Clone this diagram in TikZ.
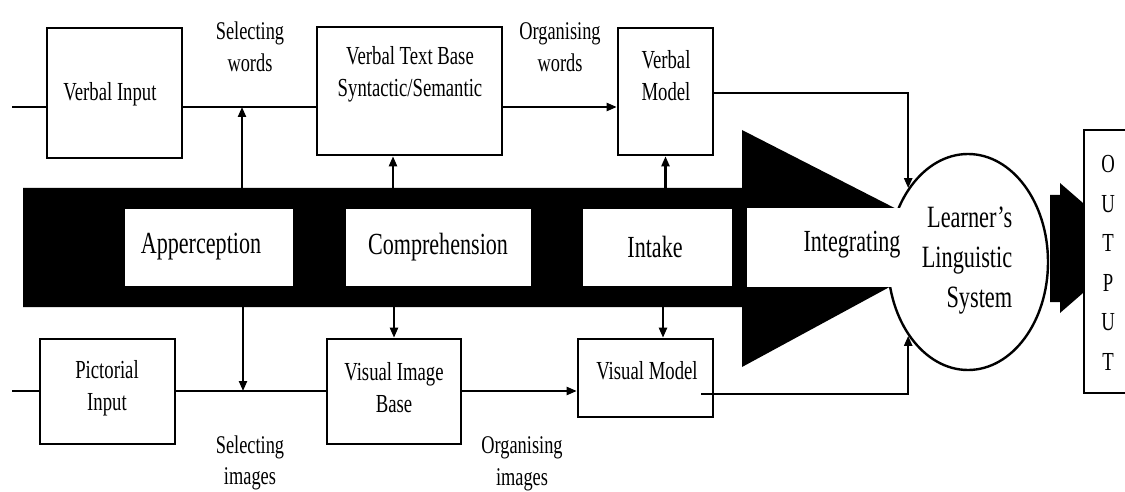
\documentclass[tikz,border=0pt]{standalone}
\usepackage{fontspec}
\setmainfont{Liberation Serif}[FakeStretch=0.72]
\usetikzlibrary{arrows.meta,shapes.geometric,calc}
\begin{document}
\begin{tikzpicture}[x=1pt,y=-1pt,
  box/.style={draw,line width=2.6pt,inner sep=0pt},
  wbox/.style={fill=white,draw=none,inner sep=0pt,minimum height=77pt},
  lbl/.style={font=\fontsize{26}{32}\selectfont,align=center,inner sep=0pt},
  sidelbl/.style={font=\fontsize{25.5}{31.5}\selectfont,align=center,inner sep=0pt},
  inlbl/.style={font=\fontsize{30.7}{34}\selectfont,inner sep=0pt},
  conn/.style={line width=2.2pt},
  arr/.style={conn,-{Triangle[length=10pt,width=8pt]}}]
\useasboundingbox (0,0) rectangle (1125,492);
\clip (0,0) rectangle (1125,492);
\coordinate (btop) at (0,188);
\coordinate (bbot) at (0,307);
% big processing arrow
\fill (23,188) -- (742,188) -- (742,130) -- (967,245) -- (742,367) -- (742,307) -- (23,307) -- cycle;
% white stage boxes
\node[wbox,minimum width=168pt] (app) at (209,247.5) {};
\node[wbox,minimum width=185pt] (comp) at (438.5,247.5) {};
\node[wbox,minimum width=149pt] (intk) at (657.5,247.5) {};
\node[inlbl] (appT) at (201,247) {Apperception};
\node[inlbl] (compT) at (438,247) {Comprehension};
\node[inlbl] (intkT) at (655,247) {Intake};
% output arrow
\fill (1050,195) -- (1060,195) -- (1060,183) -- (1083,203) -- (1083,293) -- (1060,313) -- (1060,302) -- (1050,302) -- cycle;
% learner's linguistic system
\node[draw,ellipse,line width=2.4pt,fill=white,minimum width=160pt,minimum height=216pt,inner sep=0pt] (lls) at (968,262) {};
\fill[white] (747,208) rectangle (903,287);
\node[inlbl] (integ) at (852,245) {Integrating};
\node[font=\fontsize{31}{40}\selectfont,align=right,inner sep=0pt] (llsT) at (967,261) {Learner's\\Linguistic\\System};
% output frame (its right side lies beyond the page)
\draw[line width=2.6pt] (1130,130) -- (1084,130) -- (1084,393) -- (1130,393);
\node[font=\fontsize{26}{39.5}\selectfont,align=center,inner sep=0pt] (outT) at (1108,263) {O\\U\\T\\P\\U\\T};
% top boxes
\node[box,minimum width=135pt,minimum height=130pt] (vi) at (114.5,93) {};
\node[lbl] (viT) at (110,94) {Verbal Input};
\node[box,minimum width=185pt,minimum height=128pt] (vtb) at (409.5,91) {};
\node[lbl] (vtbT) at (410,74) {Verbal Text Base\\Syntactic/Semantic};
\node[box,minimum width=95pt,minimum height=127pt] (vm) at (665.5,91.5) {};
\node[lbl] (vmT) at (666,76) {Verbal\\Model};
% bottom boxes
\node[box,minimum width=135pt,minimum height=105pt] (pi) at (107.5,391.5) {};
\node[lbl] (piT) at (107,388) {Pictorial\\Input};
\node[box,minimum width=134pt,minimum height=105pt] (vib) at (394,391.5) {};
\node[lbl] (vibT) at (394,388) {Visual Image\\Base};
\node[box,minimum width=135pt,minimum height=78pt] (vmod) at (645.5,378) {};
\node[lbl] (vmodT) at (647,371) {Visual Model};
% process labels
\node[sidelbl] (sw) at (250,47) {Selecting\\words};
\node[sidelbl] (ow) at (560,47) {Organising\\words};
\node[sidelbl] (si) at (250,463) {Selecting\\images};
\node[sidelbl] (oi) at (522,464) {Organising\\images};
% verbal channel
\coordinate (vin) at (12,107);
\draw[conn] (vin) -- (vin -| vi.west);
\draw[conn] (vi.east |- vin) -- (vtb.west |- vin);
\coordinate (j1) at (242,107);
\draw[arr] (j1 |- btop) -- (j1);
\draw[arr] (vtb.east |- vin) -- (vm.west |- vin);
\coordinate (a2) at ($(vtb.south)+(-16.5,0)$);
\draw[arr] (a2 |- btop) -- (a2);
\draw[arr] (vm.south |- btop) -- (vm.south);
\coordinate (vmx) at ($(vm.east)+(0,1.5)$);
\draw[arr] (vmx) -| (lls.129);
% pictorial channel
\coordinate (pin) at (12,391);
\draw[conn] (pin) -- (pin -| pi.west);
\draw[conn] (pi.east |- pin) -- (vib.west |- pin);
\coordinate (j2) at (243,391);
\draw[arr] (j2 |- bbot) -- (j2);
\draw[arr] (vib.north |- bbot) -- (vib.north);
\draw[arr] (vib.east |- pin) -- (vmod.west |- pin);
\coordinate (a5) at ($(vmod.north)+(17.5,0)$);
\draw[arr] (a5 |- bbot) -- (a5);
\coordinate (vmo) at ($(vmod.east)+(-13,16)$);
\draw[arr] (vmo) -| (lls.231);
\end{tikzpicture}
\end{document}
